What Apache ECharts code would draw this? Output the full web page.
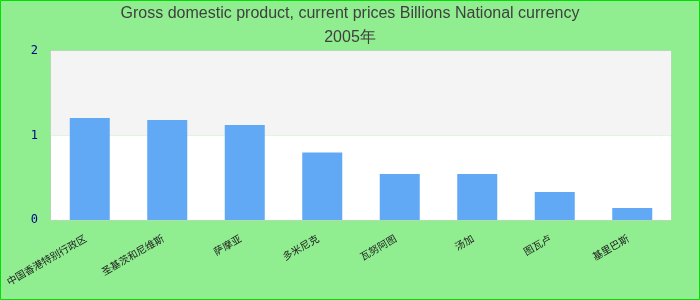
<!DOCTYPE html>
<html>
<head>
<meta charset="utf-8">
<script src="https://cdn.jsdelivr.net/npm/echarts@6/dist/echarts.min.js"></script>
<style>
html,body{margin:0;padding:0;background:#90ee90;}
#c{width:700px;height:300px;}
</style>
</head>
<body>
<div id="c"></div>
<script>
const titleLines = ["Gross domestic product, current prices Billions National currency", "2005年"];
const categories = ["中国香港特别行政区", "圣基茨和尼维斯", "萨摩亚", "多米尼克", "瓦努阿图", "汤加", "图瓦卢", "基里巴斯"];
const values = [1.207, 1.183, 1.124, 0.80, 0.544, 0.544, 0.331, 0.142];
const yTicks = [0, 1, 2];

const chart = echarts.init(document.getElementById('c'), null, {renderer: 'canvas'});
chart.setOption({
  backgroundColor: '#90ee90',
  animation: false,
  title: {
    text: titleLines.join('\n'),
    left: 'center',
    top: -3,
    textStyle: {color: '#404040', fontSize: 16, fontWeight: 'normal', fontFamily: 'Liberation Sans', lineHeight: 24}
  },
  graphic: [{
    type: 'rect', silent: true,
    shape: {x: 0.5, y: 0.5, width: 699, height: 299},
    style: {fill: 'none', stroke: '#00e000', lineWidth: 1}
  }],
  grid: {left: 51, right: 29, top: 51, bottom: 80, show: true, borderColor: '#cccccc', borderWidth: 1, backgroundColor: 'transparent', outerBoundsMode: 'none', containLabel: false},
  xAxis: {
    type: 'category',
    data: categories,
    axisLine: {show: false},
    axisTick: {show: false},
    axisLabel: {rotate: 30, color: '#222', fontSize: 10, margin: 15, interval: 0, fontFamily: 'Noto Sans CJK SC', padding: [0, 5, 0, 0]}
  },
  yAxis: {
    type: 'value',
    min: yTicks[0], max: yTicks[yTicks.length - 1], interval: 1,
    axisLine: {show: false},
    axisTick: {show: false},
    splitLine: {show: false},
    splitArea: {show: true, areaStyle: {color: ['#ffffff', '#f4f4f4']}},
    axisLabel: {color: '#00008b', fontSize: 12, fontFamily: 'DejaVu Sans Mono', margin: 13}
  },
  series: [{
    type: 'bar',
    data: values,
    barWidth: 40,
    itemStyle: {color: '#61a9f5'}
  }]
});
</script>
</body>
</html>
